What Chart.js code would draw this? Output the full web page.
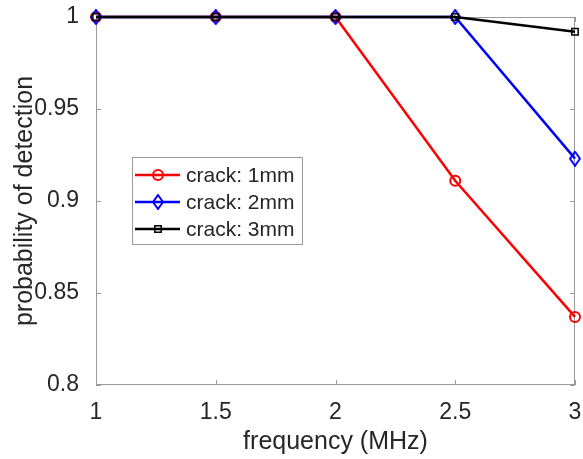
<!DOCTYPE html>
<html>
<head>
<meta charset="utf-8">
<script src="https://cdn.jsdelivr.net/npm/chart.js@4/dist/chart.umd.min.js"></script>
<style>
  html, body { margin: 0; padding: 0; background: #fff; }
  #wrap { width: 583px; height: 459px; }
</style>
</head>
<body>
<div id="wrap"><canvas id="podChart" width="583" height="459"></canvas></div>
<script>
// frequency in MHz
const frequency = [1, 1.5, 2, 2.5, 3];
const crack1mm = [1, 1, 1, 0.911, 0.837];
const crack2mm = [1, 1, 1, 1, 0.923];
const crack3mm = [1, 1, 1, 1, 0.992];
const seriesLabels = ["crack: 1mm", "crack: 2mm", "crack: 3mm"];
const xTicks = [1, 1.5, 2, 2.5, 3];
const yTicks = [0.8, 0.85, 0.9, 0.95, 1];

const textColor = "#262626";
const axisColor = "#9a9a9a";
const fontFamily = "'Liberation Sans', Arial, Helvetica, sans-serif";

function toPoints(vals) {
  return frequency.map((f, i) => ({ x: f, y: vals[i] }));
}

// matlab's diamond is taller than wide, rectRot isn't, so draw one
function diamondMarker(color) {
  const c = document.createElement("canvas");
  c.width = 12; c.height = 16;
  const g = c.getContext("2d");
  g.strokeStyle = color;
  g.lineWidth = 2;
  g.beginPath();
  g.moveTo(6, 1); g.lineTo(11, 8); g.lineTo(6, 15); g.lineTo(1, 8);
  g.closePath();
  g.stroke();
  return c;
}
const blueDiamond = diamondMarker("#0000ff");

// box around the axes + inward tick marks (matlab look)
const boxPlugin = {
  id: "boxTicks",
  beforeDatasetsDraw(chart) {
    const { ctx, chartArea: a, scales } = chart;
    ctx.save();
    ctx.strokeStyle = axisColor;
    ctx.lineWidth = 1;
    ctx.strokeRect(a.left + 0.5, a.top + 0.5, a.right - a.left - 1, a.bottom - a.top - 1);
    ctx.beginPath();
    xTicks.forEach(v => {
      const px = Math.round(scales.x.getPixelForValue(v)) + 0.5;
      ctx.moveTo(px, a.bottom); ctx.lineTo(px, a.bottom - 5);
      ctx.moveTo(px, a.top); ctx.lineTo(px, a.top + 5);
    });
    yTicks.forEach(v => {
      const py = Math.round(scales.y.getPixelForValue(v)) + 0.5;
      ctx.moveTo(a.left, py); ctx.lineTo(a.left + 5, py);
      ctx.moveTo(a.right, py); ctx.lineTo(a.right - 5, py);
    });
    ctx.stroke();
    ctx.restore();
  },
  afterDraw(chart) {
    // legend box inside the plot
    const { ctx } = chart;
    const bx = 132, by = 157, bw = 170, bh = 87;
    ctx.save();
    ctx.fillStyle = "#fff";
    ctx.fillRect(bx, by, bw, bh);
    ctx.strokeStyle = axisColor;
    ctx.lineWidth = 1;
    ctx.strokeRect(bx + 0.5, by + 0.5, bw, bh);
    const rows = [175, 202, 229];
    chart.data.datasets.forEach((ds, i) => {
      const y = rows[i];
      ctx.strokeStyle = ds.borderColor;
      ctx.lineWidth = ds.borderWidth;
      ctx.beginPath();
      ctx.moveTo(135, y); ctx.lineTo(180, y);
      ctx.stroke();
      ctx.fillStyle = "rgba(0,0,0,0)";
      ctx.lineWidth = ds.pointBorderWidth;
      Chart.helpers.drawPoint(ctx, {
        pointStyle: ds.pointStyle,
        radius: ds.pointRadius,
        borderWidth: ds.pointBorderWidth,
        rotation: 0
      }, 158, y);
      ctx.fillStyle = textColor;
      ctx.font = "21px " + fontFamily;
      ctx.textBaseline = "middle";
      ctx.fillText(seriesLabels[i], 186, y + 1);
    });
    ctx.restore();
  }
};

const ctx = document.getElementById("podChart").getContext("2d");

new Chart(ctx, {
  type: "line",
  data: {
    datasets: [
      {
        label: seriesLabels[0],
        data: toPoints(crack1mm),
        borderColor: "#ff0000",
        borderWidth: 2.5,
        pointStyle: "circle",
        pointRadius: 5,
        pointBorderWidth: 2,
        pointBackgroundColor: "rgba(0,0,0,0)",
        clip: false,
        order: 3
      },
      {
        label: seriesLabels[1],
        data: toPoints(crack2mm),
        borderColor: "#0000ff",
        borderWidth: 2.5,
        pointStyle: blueDiamond,
        pointRadius: 6,
        pointBorderWidth: 2,
        pointBackgroundColor: "rgba(0,0,0,0)",
        clip: false,
        order: 2
      },
      {
        label: seriesLabels[2],
        data: toPoints(crack3mm),
        borderColor: "#000000",
        borderWidth: 2.5,
        pointStyle: "rect",
        pointRadius: 4.5,
        pointBorderWidth: 1.5,
        pointBackgroundColor: "rgba(0,0,0,0)",
        clip: false,
        order: 1
      }
    ]
  },
  options: {
    responsive: false,
    animation: false,
    layout: { padding: { left: 0, right: 6, top: 17, bottom: 0 } },
    plugins: {
      legend: { display: false },
      tooltip: { enabled: false }
    },
    scales: {
      x: {
        type: "linear",
        min: 1,
        max: 3,
        afterBuildTicks: s => { s.ticks = xTicks.map(v => ({ value: v })); },
        afterFit: s => {
          s.height = 74;
          s.paddingLeft = 0; s.paddingRight = 0;
        },
        grid: { display: false },
        border: { display: false },
        ticks: {
          color: textColor,
          font: { family: fontFamily, size: 23 },
          padding: 6,
          maxRotation: 0,
          callback: v => String(v)
        },
        title: {
          display: true,
          text: "frequency (MHz)",
          color: textColor,
          font: { family: fontFamily, size: 25 },
          padding: { top: 0, bottom: 2 }
        }
      },
      y: {
        type: "linear",
        min: 0.8,
        max: 1,
        afterBuildTicks: s => { s.ticks = yTicks.map(v => ({ value: v })); },
        afterFit: s => {
          s.width = 96;
          s.paddingTop = 0; s.paddingBottom = 0;
        },
        grid: { display: false },
        border: { display: false },
        ticks: {
          color: textColor,
          font: { family: fontFamily, size: 23 },
          padding: 9,
          callback: v => String(v)
        },
        title: {
          display: true,
          text: "probability of detection",
          color: textColor,
          font: { family: fontFamily, size: 25 },
          padding: { top: 10, bottom: 0 }
        }
      }
    }
  },
  plugins: [boxPlugin]
});
</script>
</body>
</html>
